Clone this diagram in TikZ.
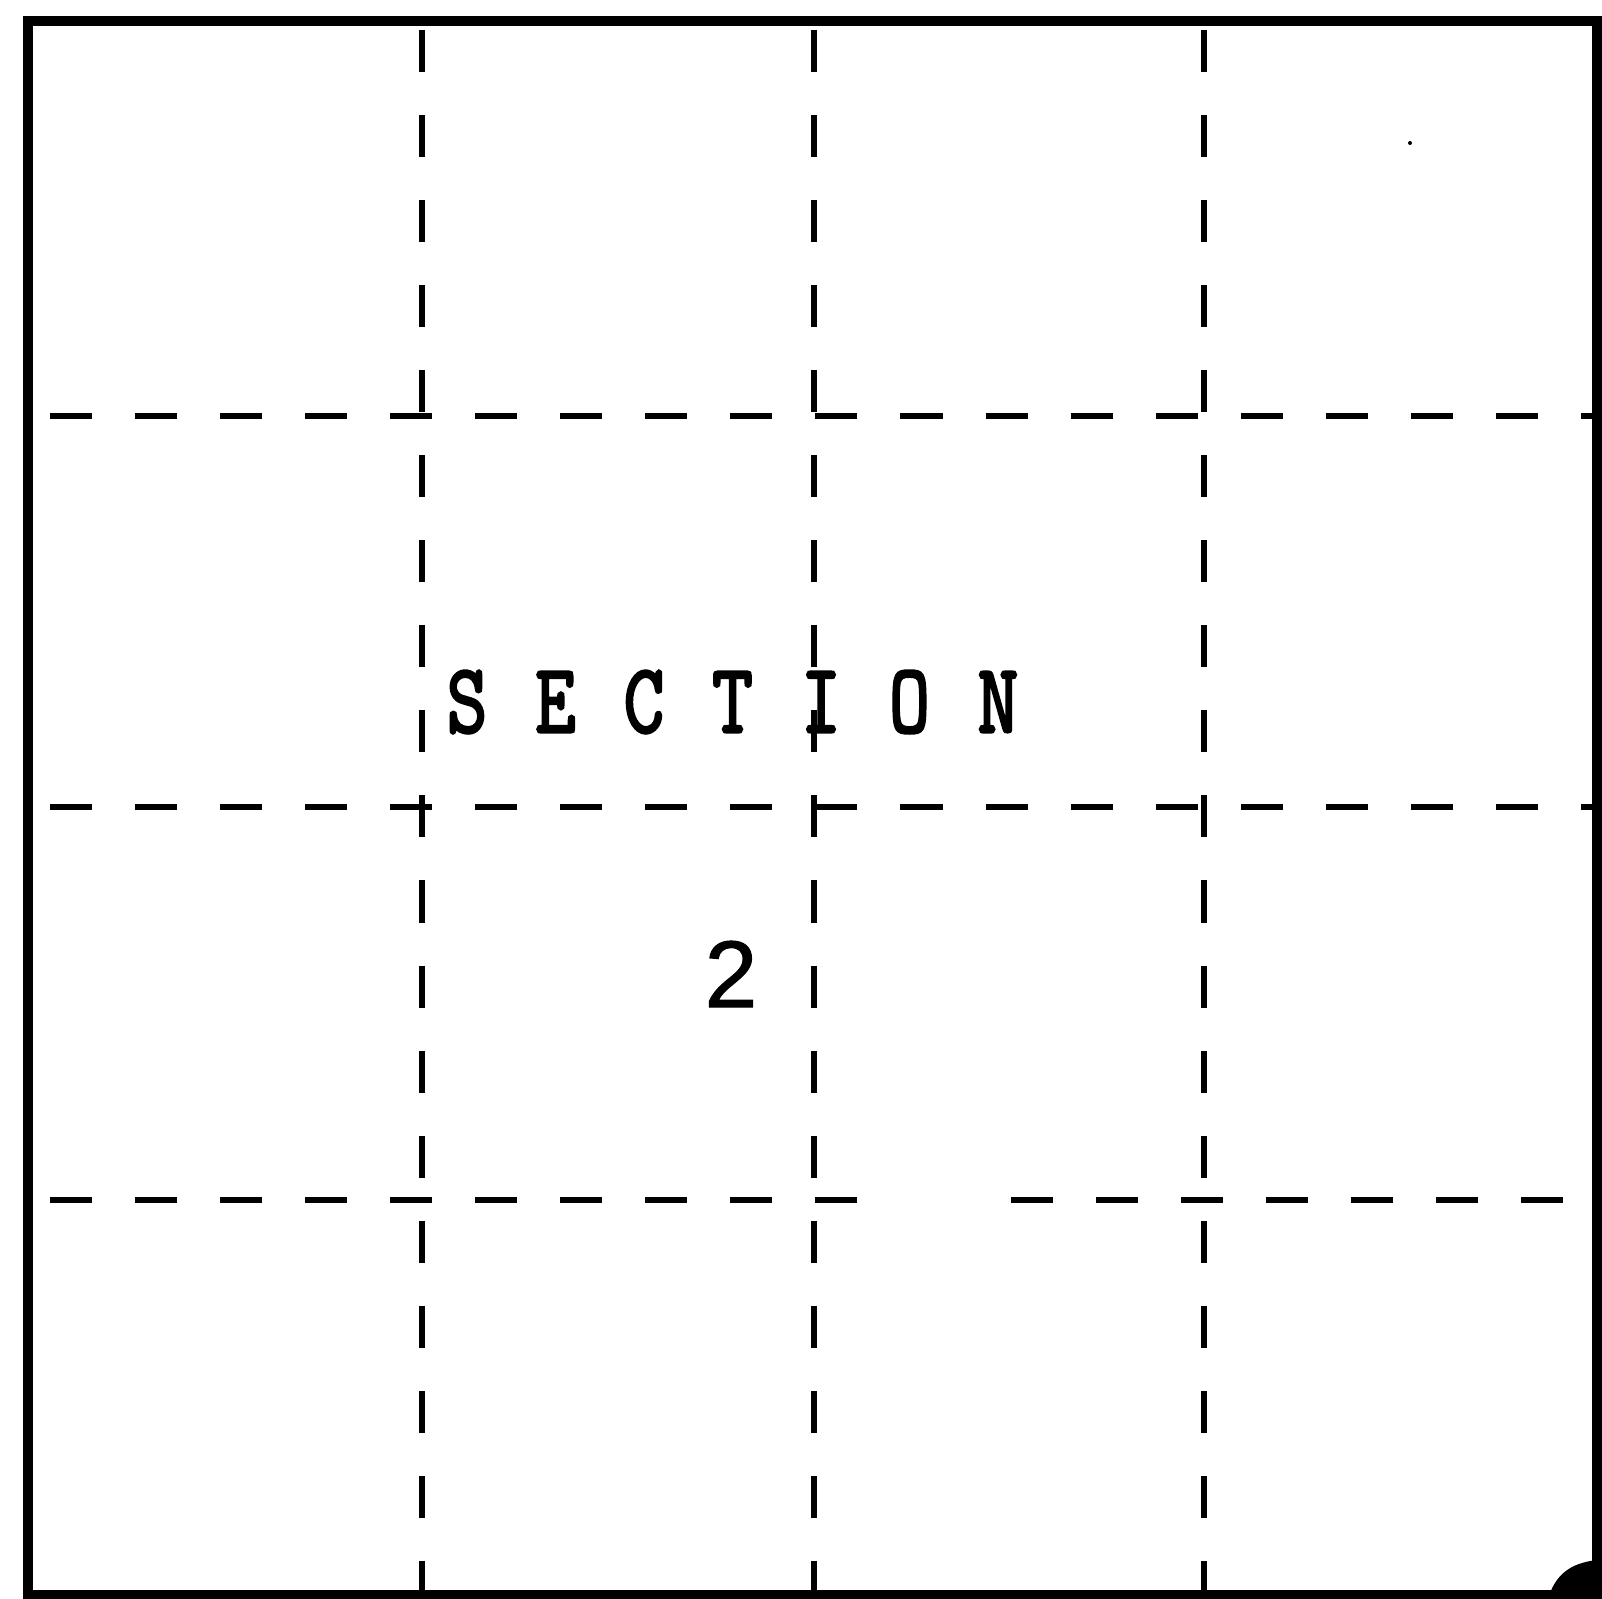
\documentclass[tikz,border=0pt]{standalone}
\usepackage{fontspec}
\usepackage{graphicx}
\newfontfamily\numfont[FakeBold=1]{Liberation Sans}
\newfontfamily\typefont[FakeBold=3]{Latin Modern Mono}
\begin{document}
\begin{tikzpicture}[x=0.01cm,y=-0.01cm,
  gridline/.style={line width=1.5pt,dash pattern=on 0.42cm off 0.43cm},
  letter/.style={font=\typefont\fontsize{28}{28}\selectfont,inner sep=0pt}]
  \useasboundingbox (0,0) rectangle (1602,1599);
  % 外框
  \draw[line width=2.6pt] (28,21) rectangle (1597,1595);
  % 竖虚线
  \foreach \x in {422,814,1204}
    \draw[gridline] (\x,30) -- (\x,1592);
  % 横虚线
  \foreach \y in {416,807}
    \draw[gridline] (50,\y) -- (1592,\y);
  \draw[gridline] (50,1200) -- (889,1200);
  \draw[gridline] (1011,1200) -- (1592,1200);
  % 标注
  \foreach \c [count=\i from 0] in {S,E,C,T,I,O,N}
    \node[letter] (sec\i) at ({467+88.5*\i},702) {\scalebox{0.8}[1]{\c}};
  \node[font=\numfont\fontsize{27}{27}\selectfont,inner sep=0pt] (num) at (731,974) {2};
  % 污点
  \fill (1410,143) circle (2);
  \fill (1548,1599) .. controls (1555,1575) and (1570,1563) .. (1597,1560)
    -- (1602,1560) -- (1602,1599) -- cycle;
\end{tikzpicture}
\end{document}
